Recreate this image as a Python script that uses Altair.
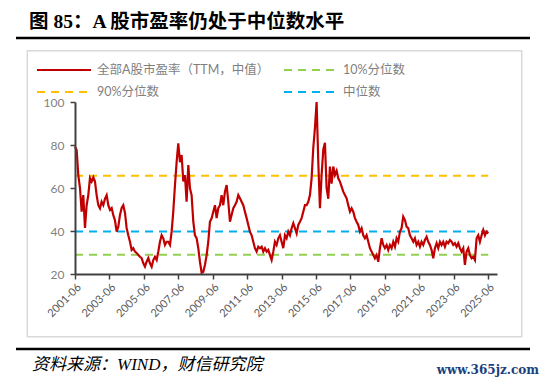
import altair as alt
import numpy as np
import pandas as pd

# ---------------- data ----------------
title_text = "图 85：A 股市盈率仍处于中位数水平"
source_text = "资料来源：WIND，财信研究院"
watermark_text = "www.365jz.com"
series_name = "全部A股市盈率（TTM，中值）"

ref_names = ["90%分位数", "中位数", "10%分位数"]
ref_values = [65.7, 39.8, 29.0]
ref_colors = ["#FFC000", "#00B0F0", "#92D050"]

series_start = "2001-06-01"
series_step_days = 35.37

pe_values = [
    79.2, 77.7, 66, 60, 49, 56.7, 41.4, 52, 56.7, 64.6,
    63, 65, 63, 56.7, 52, 50.5, 53.6, 52, 55, 56.7,
    52, 49.8, 50.7, 47.4, 45, 39.7, 42, 47.4, 50.7, 52,
    48.4, 41.4, 38, 35, 31.2, 32, 30.4, 29.8, 28.8, 28,
    27.4, 25, 23.4, 25.7, 27.4, 25, 23.4, 26.5, 28, 26.5,
    30.4, 35, 38, 36.6, 33.5, 35, 35, 33.5, 39.7, 49,
    61.4, 72, 80.8, 72, 75.3, 63, 66, 53.6, 70.7, 59.9,
    56.7, 44.3, 38, 36.6, 32, 25.7, 20.5, 21, 24.2, 28.8,
    35, 44.3, 45.9, 49, 52, 46, 50.6, 52, 56.7, 52,
    58.3, 61.4, 53.6, 44.3, 47.4, 50.6, 52, 53.6, 56.7, 55.2,
    53.6, 52, 49, 46, 42.8, 39.7, 38, 35, 32, 30.4,
    32.7, 32, 32.7, 30.4, 32, 30.4, 31.2, 28.8, 26.5, 30.4,
    35, 33.5, 36.6,
    38, 35, 32, 38, 36.6, 39.7, 38, 41.3, 43.6, 41.3,
    38.9, 42.8, 44.3, 46, 49, 52, 52, 53.6, 56.7, 64.5,
    78.5, 88, 100, 72, 50.6, 66, 78, 81, 60, 55,
    70, 62, 70, 66, 68, 64.5, 63, 60.6, 58.3, 56.7,
    55.2, 52, 49, 50.6, 49, 46, 44.3, 42.8, 39.7, 41.3,
    38, 36.6, 38, 35, 32, 30.4, 28.8, 27.3, 28.8, 25.7,
    32, 36.6, 33.5,
    32, 33.5, 31.2, 33.5, 32, 35, 32.7, 36.6, 35, 39.7,
    41.3, 46.7, 45.1, 42, 41.3, 38, 36.6, 35, 36.6, 33.5,
    35, 32.7, 35, 33.5, 35.8, 37.3, 35, 33.5, 31.2, 27.3,
    32, 34.3, 32, 35, 33.5, 35, 32.7, 35, 34.3, 35.8,
    35, 33.5, 34.3, 32.7, 34.3, 32, 30.4, 32, 24.2, 30.4,
    32, 28.8, 27.3, 28, 26.5, 36.6, 38, 35, 38, 40.5,
    38, 39.7, 38.9,
]

tick_years = list(range(2001, 2026, 2))
axis_end = (2025, 12, 9)

# ---------------- frames ----------------
dates = pd.Timestamp(series_start) + pd.to_timedelta(
    np.arange(len(pe_values)) * series_step_days, unit="D")
df = pd.DataFrame({"date": dates.strftime("%Y-%m-%dT00:00:00"), "pe": pe_values})

ref_df = pd.DataFrame({
    "name": ref_names,
    "value": ref_values,
    "start": [df["date"].iloc[0]] * 3,
    "end": [df["date"].iloc[-1]] * 3,
})

one = pd.DataFrame({"k": [0]})

W, H = 422, 172
FONT_CJK = "Lato, Noto Sans CJK SC"
x_scale = alt.Scale(domain=[alt.DateTime(year=2001, month=6, date=1),
                            alt.DateTime(year=axis_end[0], month=axis_end[1], date=axis_end[2])])
y_scale = alt.Scale(domain=[20, 100], nice=False, zero=False)

x_axis = alt.Axis(
    values=[alt.DateTime(year=y, month=6, date=1) for y in tick_years],
    format="%Y-%m", labelAngle=-45, labelFontSize=11, labelColor="#595959",
    labelFont=FONT_CJK, grid=False, domainColor="#404040", domainWidth=2,
    tickColor="#404040", tickSize=5, tickWidth=1.5, title=None, labelPadding=2,
    labelOverlap=False, zindex=1,
)
y_axis = alt.Axis(
    values=[20, 40, 60, 80, 100], labelFontSize=12, labelColor="#7f7f7f",
    labelFont=FONT_CJK, grid=False, domainColor="#404040", domainWidth=2,
    tickColor="#404040", tickSize=5, tickWidth=1.5, title=None, labelPadding=6,
    zindex=1,
)

# frame box
box = alt.Chart(one).mark_rect(fillOpacity=0, stroke="#d9d9d9", strokeWidth=1.5).encode(
    x=alt.value(-47.7), x2=alt.value(446.7), y=alt.value(-51.3), y2=alt.value(234.7))

refs = alt.Chart(ref_df).mark_rule(strokeWidth=2, strokeDash=[8, 6]).encode(
    x=alt.X("start:T", scale=x_scale, axis=x_axis),
    x2="end:T",
    y=alt.Y("value:Q", scale=y_scale, axis=y_axis),
    color=alt.Color("name:N", scale=alt.Scale(domain=ref_names, range=ref_colors), legend=None),
)

line = alt.Chart(df).mark_line(color="#C00000", strokeWidth=2.2).encode(
    x=alt.X("date:T", scale=x_scale, axis=x_axis),
    y=alt.Y("pe:Q", scale=y_scale, axis=y_axis),
)

def hline(x1, x2, y, color, width, dash=None):
    kw = dict(color=color, strokeWidth=width)
    if dash:
        kw["strokeDash"] = dash
    return alt.Chart(one).mark_rule(**kw).encode(
        x=alt.value(x1), x2=alt.value(x2), y=alt.value(y))

def label(x, y, text, size, color, font, weight="normal", style="normal", align="left"):
    return alt.Chart(one).mark_text(
        align=align, baseline="middle", fontSize=size, color=color, font=font,
        fontWeight=weight, fontStyle=style).encode(
        x=alt.value(x), y=alt.value(y), text=alt.value(text))

decor = [
    label(-46, -80.5, title_text, 19.5, "#000000", "Liberation Serif, Noto Sans CJK SC", weight="bold"),
    hline(-59, 455, -64, "#000000", 2.5),
    hline(-59, 455, 247, "#000000", 2.5),
    label(-43, 263, source_text, 17, "#000000", "Liberation Serif, Noto Sans CJK SC", style="italic"),
    label(464, 268, watermark_text, 12, "#1b3f7e", "DejaVu Serif", weight="bold", align="right"),
    # legend
    hline(-38, 16, -32, "#C00000", 2),
    label(22, -32, series_name, 12.5, "#7f7f7f", FONT_CJK),
    hline(209, 260, -32, ref_colors[2], 2, [8, 6]),
    label(268, -32, ref_names[2], 12.5, "#7f7f7f", FONT_CJK),
    hline(-38, 16, -10, ref_colors[0], 2, [8, 6]),
    label(22, -10, ref_names[0], 12.5, "#7f7f7f", FONT_CJK),
    hline(209, 260, -10, ref_colors[1], 2, [8, 6]),
    label(268, -10, ref_names[1], 12.5, "#7f7f7f", FONT_CJK),
]

chart = alt.layer(box, refs, line, *decor).properties(
    width=W, height=H,
    autosize=alt.AutoSizeParams(type="none"),
    padding={"left": 67, "top": 94, "right": 45, "bottom": 105},
    background="white",
).configure_view(stroke=None)

chart.save("out.html", embed_options={"renderer": "svg", "actions": False})
